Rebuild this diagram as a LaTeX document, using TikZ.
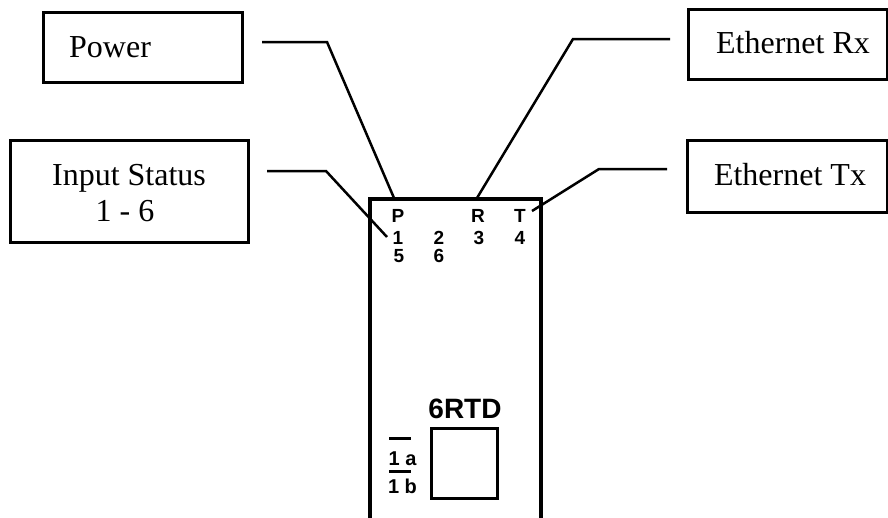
\documentclass[tikz,border=0pt]{standalone}
\usepackage{fontspec}
\setmainfont{Liberation Serif}
\setsansfont{Liberation Sans}
\begin{document}
\begin{tikzpicture}[x=1pt,y=-1pt,
  lbox/.style={draw, line width=3pt, inner sep=0pt},
  lead/.style={line width=2.5pt, line join=miter},
  serif/.style={font=\fontsize{32}{37}\selectfont, inner sep=0pt, anchor=base},
  led/.style={font=\sffamily\bfseries\fontsize{19}{21}\selectfont, inner sep=0pt, anchor=base},
  thin rule/.style={line width=3pt}]
\useasboundingbox (0,0) rectangle (888,517);
\clip (0,0) rectangle (888,517);
\fill[white] (0,0) rectangle (888,517);

% label boxes
\node[lbox, minimum width=199pt, minimum height=70pt] (power) at (142.5,47) {};
\node[serif, anchor=base west] (powert) at (69,57) {Power};
\node[lbox, minimum width=238pt, minimum height=102pt] (input) at (129,191) {};
\node[serif] (inputt1) at (129,185) {Input Status};
\node[serif] (inputt2) at (125,221) {1 - 6};
\node[lbox, minimum width=199pt, minimum height=70pt] (rx) at (787.5,44) {};
\node[serif] (rxt) at (793,53) {Ethernet Rx};
\node[lbox, minimum width=200pt, minimum height=72pt] (tx) at (787,176) {};
\node[serif] (txt) at (790,185) {Ethernet Tx};

% module
\node[draw, line width=4pt, minimum width=171pt, minimum height=361pt, inner sep=0pt] (unit) at (455.5,379.5) {};

% LED labels
\node[led] (lP) at (398,222) {P};
\node[led] (lR) at (478,222) {R};
\node[led] (lT) at (520,222) {T};
\node[led] (l1) at (398,244) {1};
\node[led] (l2) at (439,244) {2};
\node[led] (l3) at (479,244) {3};
\node[led] (l4) at (520,244) {4};
\node[led] (l5) at (399,262) {5};
\node[led] (l6) at (439,262) {6};

% model name and switch
\node[font=\sffamily\bfseries\fontsize{28}{30}\selectfont, inner sep=0pt, anchor=base] (model) at (465,418) {6RTD};
\node[draw, line width=3pt, minimum width=66pt, minimum height=70pt, inner sep=0pt] (switch) at (464,463) {};
\node[font=\sffamily\bfseries\fontsize{20}{22}\selectfont, inner sep=0pt, anchor=base] (s1a) at (402.5,465) {1 a};
\node[font=\sffamily\bfseries\fontsize{20}{22}\selectfont, inner sep=0pt, anchor=base] (s1b) at (402.5,493) {1 b};
\coordinate (b1l) at (389,438); \coordinate (b1r) at (411,438);
\coordinate (b2l) at (389,471); \coordinate (b2r) at (411,471);
\draw[thin rule] (b1l) -- (b1r);
\draw[thin rule] (b2l) -- (b2r);

% leaders
\coordinate (pw0) at (262,42); \coordinate (pw1) at (327,42); \coordinate (pw2) at (394,198);
\coordinate (in0) at (267,171); \coordinate (in1) at (326,171); \coordinate (in2) at (387,237);
\coordinate (rx0) at (670,39); \coordinate (rx1) at (573,39); \coordinate (rx2) at (477,198);
\coordinate (tx0) at (667,169); \coordinate (tx1) at (599,169); \coordinate (tx2) at (532,211);
\draw[lead] (pw0) -- (pw1) -- (pw2);
\draw[lead] (in0) -- (in1) -- (in2);
\draw[lead] (rx0) -- (rx1) -- (rx2);
\draw[lead] (tx0) -- (tx1) -- (tx2);
\end{tikzpicture}
\end{document}
